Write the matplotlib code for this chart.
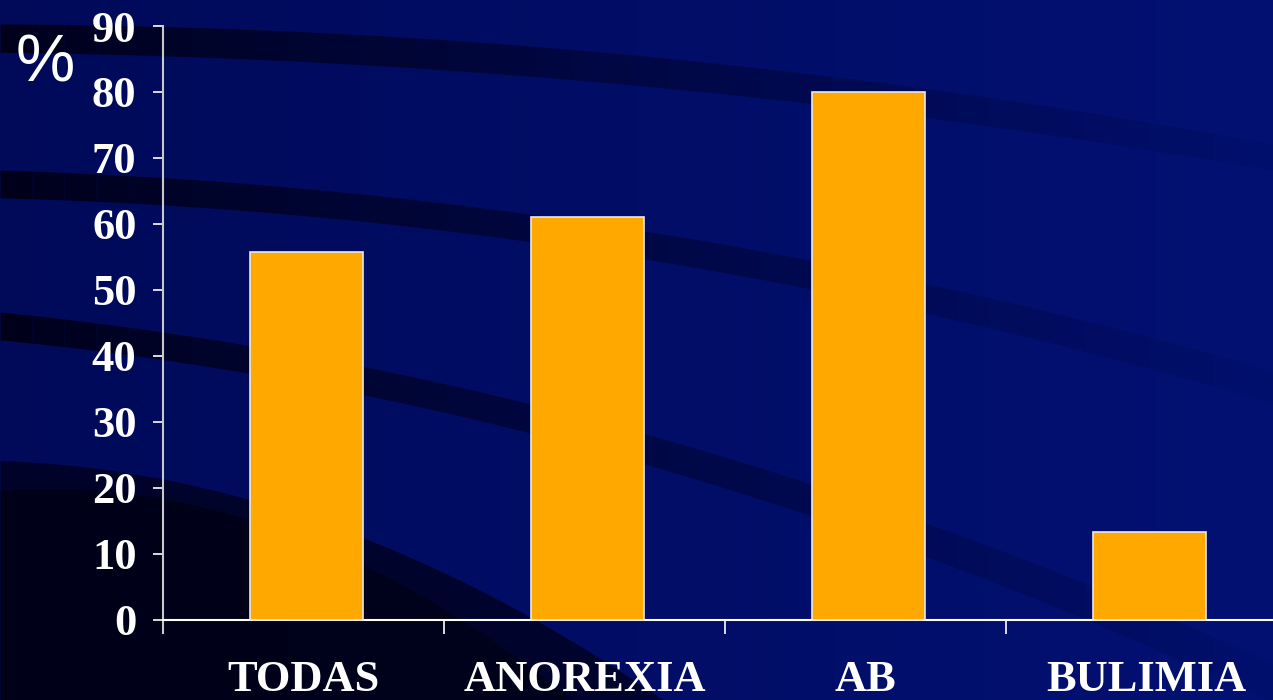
import matplotlib.pyplot as plt
import numpy as np

# data
categories = ["TODAS", "ANOREXIA", "AB", "BULIMIA"]
values = [55.7, 61, 80, 13.3]
yticks = [0, 10, 20, 30, 40, 50, 60, 70, 80, 90]

fig = plt.figure(figsize=(12.73, 7), dpi=100)

# background: blue gradient with dark curved bands (pixel coords)
bg = fig.add_axes([0, 0, 1, 1])
bg.set_xlim(0, 1273)
bg.set_ylim(700, 0)
bg.axis("off")
xx = np.linspace(0, 1, 300)
yy = np.linspace(0, 1, 200)
X, Y = np.meshgrid(xx, yy)
r = 0.0 + 0.01 * X
g = 0.04 + 0.025 * X
b = 0.35 + 0.10 * X
bg.imshow(np.dstack([r, g, b]).clip(0, 1), extent=[0, 1273, 700, 0], aspect="auto", zorder=0)


def curve(pts, x):
    px, py = zip(*pts)
    return np.polyval(np.polyfit(px, py, 2), x)


x = np.linspace(0, 1273, 400)
bands = [
    ([(0, 25), (260, 28), (925, 90), (1270, 143)],
     [(0, 52), (260, 60), (925, 117), (1270, 170)]),
    ([(0, 170), (350, 193), (810, 260), (1270, 370)],
     [(0, 197), (350, 222), (810, 287), (1270, 403)]),
    ([(0, 315), (260, 343), (527, 400), (810, 490), (1270, 660)],
     [(0, 342), (260, 372), (527, 430), (810, 520), (1270, 700)]),
]
for tp, bp in bands:
    top = curve(tp, x)
    bot = curve(bp, x)
    n = 40
    for k in range(n):
        sl = slice(k * 10, k * 10 + 11)
        a = 0.92 - 0.88 * (k / n) ** 0.75
        bg.fill_between(x[sl], top[sl], bot[sl], color="#000015", alpha=a, lw=0, zorder=1)

# big dark area bottom left
xb = np.linspace(0, 700, 200)
top4 = curve([(0, 460), (363, 542), (510, 600), (660, 700)], xb)
bg.fill_between(xb, np.minimum(top4, 700), 700, color="#000015", alpha=0.7, lw=0, zorder=1)
xc = np.linspace(0, 580, 200)
top5 = curve([(0, 490), (363, 570), (440, 600), (570, 700)], xc)
bg.fill_between(xc, np.minimum(top5, 700), 700, color="#00000c", alpha=0.55, lw=0, zorder=1)

ax = fig.add_axes([163 / 1273, 67 / 700, 1124 / 1273, 607 / 700])
ax.patch.set_alpha(0)
pos = np.arange(len(categories))
ax.bar(pos + 0.01, values, width=0.4, color="#FFA800", edgecolor="#e8e8e8", linewidth=1.2, zorder=3)

ax.set_xlim(-0.5, 3.5)
ax.set_ylim(-2, 90)
ax.spines["top"].set_visible(False)
ax.spines["right"].set_visible(False)
ax.spines["left"].set_bounds(-2, 90)
ax.spines["left"].set_color("#c8c8c8")
ax.spines["left"].set_linewidth(1.5)
ax.spines["bottom"].set_position(("data", 0))
ax.spines["bottom"].set_color("white")
ax.spines["bottom"].set_linewidth(1.5)

ax.set_yticks(yticks)
ax.set_yticklabels([str(v) for v in yticks])
ax.set_xticks(pos)
ax.set_xticklabels(categories)
ax.set_xticks([-0.5, 0.5, 1.5, 2.5], minor=True)
ax.tick_params(axis="x", which="major", length=0, pad=29, colors="white")
ax.tick_params(axis="x", which="minor", length=10, width=1.2, color="white", direction="out")
ax.tick_params(axis="y", length=7, width=1.2, color="white", pad=12, colors="white")
for lab in ax.get_xticklabels() + ax.get_yticklabels():
    lab.set_fontfamily("Liberation Serif")
    lab.set_fontweight("bold")
    lab.set_fontsize(32)
    lab.set_color("white")

fig.text(16 / 1273, 1 - 64 / 700, "%", fontsize=48, color="white",
         family="Liberation Sans", va="center", ha="left")

fig.savefig("out.png", dpi=100)
